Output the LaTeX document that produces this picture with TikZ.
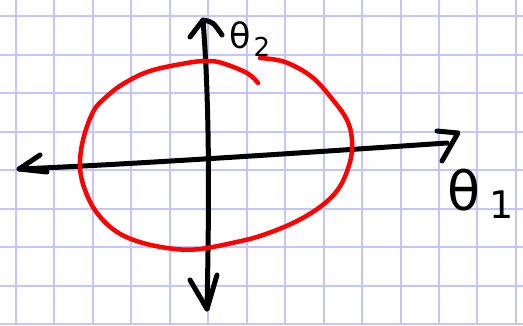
\documentclass[tikz,border=0pt]{standalone}
\usepackage{fontspec}
\setmainfont{DejaVu Sans}
\usetikzlibrary{calc}

\definecolor{gridblue}{RGB}{196,196,255}
\definecolor{inkred}{RGB}{255,0,0}

\tikzset{
  gridline/.style={gridblue, line width=2pt},
  axis/.style={black, line width=5pt, line cap=round, line join=round},
  contour/.style={inkred, line width=4.5pt, line cap=round, line join=round},
  handlabel/.style={inner sep=0pt, anchor=base west}
}

\begin{document}
\begin{tikzpicture}[x=1pt,y=-1pt]
  \useasboundingbox (0,0) rectangle (523,325);
  \fill[white] (0,0) rectangle (523,325);
  % grid paper
  \foreach \i in {0,...,13}
    \draw[gridline] ({16+38.45*\i},0) -- ({16+38.45*\i},325);
  \foreach \j in {0,...,8}
    \draw[gridline] (0,{16+38.5*\j}) -- (523,{16+38.5*\j});
  % axes
  \coordinate (north) at (203,20);
  \coordinate (south) at (207,309);
  \coordinate (west) at (19,169);
  \coordinate (east) at (447,143);
  \draw[axis] (south) .. controls (209,210) and (210,110) .. (north);
  \draw[axis] (west) .. controls (120,165) and (300,153) .. (east);
  % arrow heads
  \draw[axis] ($(north)+(-13,17)$) -- (north) .. controls +(10,2) .. ($(north)+(19,15)$);
  \draw[axis] ($(south)+(-17,-29)$) -- (south) -- ($(south)+(10,-34)$);
  \draw[axis] ($(west)+(21,-14)$) -- (west) -- ($(west)+(28,3)$);
  \draw[axis] ($(east)+(-10,-12)$) -- ($(east)+(11,-10)$) -- ($(east)+(-5,18)$);
  % labels
  \node[handlabel] (t2) at (229,48)
    {\fontsize{35}{35}\selectfont θ\hspace{3pt}\raisebox{-8pt}{\fontsize{26}{26}\selectfont 2}};
  \node[handlabel] (t1) at (447,210)
    {\fontsize{54}{54}\selectfont θ\hspace{9pt}\raisebox{-8pt}{\fontsize{38}{38}\selectfont 1}};
  % level curve
  \draw[contour] plot[smooth, tension=0.6] coordinates {
    (260,58) (285,62) (312,77) (333,100) (347,120) (352,140) (350,162)
    (339,188) (320,207) (293,223) (260,236) (232,243) (200,249) (175,249)
    (143,243) (117,232) (97,213) (85,190) (80,167) (83,140) (93,112)
    (105,98) (123,84) (150,71) (187,63) (207,61) (222,63) (247,73) (258,83)};
\end{tikzpicture}
\end{document}
